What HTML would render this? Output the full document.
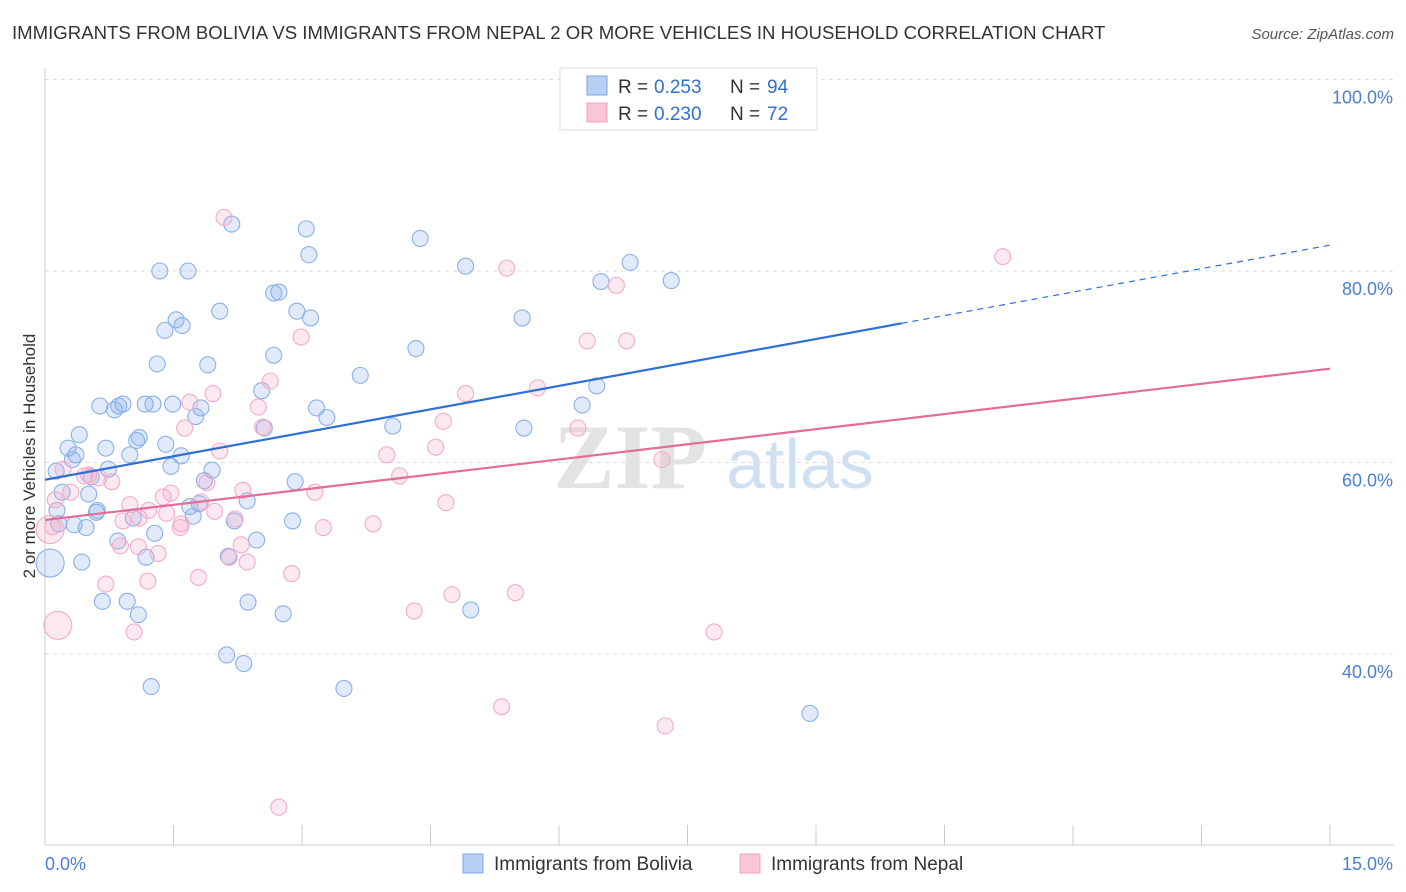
<!DOCTYPE html>
<html><head><meta charset="utf-8"><style>
body{margin:0;background:#fff;font-family:"Liberation Sans",sans-serif;}
svg{display:block}
</style></head><body>
<svg id="chart" width="1406" height="892" viewBox="0 0 1406 892">
<text x="12" y="39" font-size="18.6" fill="#333">IMMIGRANTS FROM BOLIVIA VS IMMIGRANTS FROM NEPAL 2 OR MORE VEHICLES IN HOUSEHOLD CORRELATION CHART</text>
<text x="1394" y="39" font-size="15" fill="#555" font-style="italic" text-anchor="end">Source: ZipAtlas.com</text>
<g>
<text x="630" y="488" font-size="92" fill="#d8d8d8" text-anchor="middle" font-family="Liberation Serif,serif" font-weight="bold" opacity="0.7">ZIP</text>
<text x="800" y="488" font-size="70" fill="#bcd3ee" text-anchor="middle" opacity="0.7">atlas</text>
</g>
<g id="grid"></g>
<g id="axes"></g>
<g id="pts"></g>
<g id="lines"></g>
<text x="35" y="456" font-size="17" fill="#333" text-anchor="middle" transform="rotate(-90 35 456)">2 or more Vehicles in Household</text>
<g>
<rect x="560" y="68" width="257" height="62" fill="#fff" stroke="#ddd"/>
<rect x="587" y="76" width="20" height="19" fill="#b8d0f3" stroke="#7aa5e6"/>
<rect x="587" y="103" width="20" height="19" fill="#f9c6d6" stroke="#f0a0bc"/>
<text x="618" y="93" font-size="19" fill="#333">R =</text>
<text x="654" y="93" font-size="19" fill="#2f6fd6">0.253</text>
<text x="730" y="93" font-size="19" fill="#333">N =</text>
<text x="767" y="93" font-size="19" fill="#2f6fd6">94</text>
<text x="618" y="120" font-size="19" fill="#333">R =</text>
<text x="654" y="120" font-size="19" fill="#2f6fd6">0.230</text>
<text x="730" y="120" font-size="19" fill="#333">N =</text>
<text x="767" y="120" font-size="19" fill="#2f6fd6">72</text>
</g>
<g>
<rect x="463" y="854" width="20" height="19" fill="#b8d0f3" stroke="#7aa5e6"/>
<text x="494" y="870" font-size="19" fill="#333">Immigrants from Bolivia</text>
<rect x="740" y="854" width="20" height="19" fill="#f9c6d6" stroke="#f0a0bc"/>
<text x="771" y="870" font-size="19" fill="#333">Immigrants from Nepal</text>
</g>
</svg>
<script>
const xTicks=[0,1.5,3,4.5,6,7.5,9,10.5,12,13.5,15];
const yTicks=[40,60,80,100];
const yTickLabels=["40.0%","60.0%","80.0%","100.0%"];
const xTickLabels=["0.0%","15.0%"];
const blueX=[1.34,1.67,2.18,3.05,3.08,4.38,4.91,6.83,7.31,6.49,2.67,2.73,2.04,2.94,3.10,1.53,1.60,1.40,5.57,4.33,2.67,1.31,1.90,3.68,2.53,6.44,0.64,0.81,0.86,0.91,1.17,1.26,1.49,1.82,1.76,3.17,3.29,0.40,1.07,1.10,1.41,2.56,4.06,5.59,6.27,0.27,0.71,0.99,0.36,1.59,1.47,0.74,1.95,0.13,0.32,0.54,1.86,2.92,0.20,0.51,0.61,1.69,1.80,2.36,0.14,0.60,1.73,1.03,2.89,2.21,0.16,0.34,0.48,1.28,0.85,2.47,1.18,2.14,0.43,0.06,0.67,0.96,2.37,2.78,1.09,4.97,2.12,2.32,1.24,3.49,8.93];
const blueY=[80.0,80.0,84.9,84.4,81.7,83.4,80.5,80.9,79.0,78.9,77.7,77.8,75.8,75.8,75.1,74.9,74.3,73.8,75.1,71.9,71.2,70.3,70.2,69.1,67.5,68.0,65.9,65.5,65.9,66.1,66.1,66.1,66.1,65.7,64.8,65.7,64.7,62.9,62.3,62.6,61.9,63.6,63.8,63.6,66.0,61.5,61.5,60.8,60.8,60.7,59.6,59.3,59.2,59.1,60.3,58.5,58.1,58.0,56.9,56.7,55.0,55.4,55.7,56.0,55.0,54.8,54.4,54.2,53.9,53.9,53.6,53.5,53.2,52.6,51.8,51.9,50.1,50.2,49.6,49.5,45.5,45.5,45.4,44.2,44.1,44.6,39.9,39.0,36.6,36.4,33.8];
const blueBig=[79];
const pinkX=[2.09,11.18,5.39,6.67,2.99,6.33,6.79,2.63,1.96,1.69,2.49,4.91,5.75,1.63,2.54,6.22,4.65,4.56,2.04,3.99,4.14,7.20,0.21,0.46,0.63,0.78,0.30,0.51,0.12,1.89,2.31,3.15,1.38,1.47,1.82,0.99,1.21,1.42,1.98,2.22,1.59,1.58,0.91,1.10,3.25,3.83,4.68,0.09,0.88,1.09,1.32,2.29,2.15,2.36,0.71,1.20,1.79,2.88,4.75,5.49,4.31,1.04,7.81,0.15,5.33,7.24,2.73,0.06];
const pinkY=[85.6,81.5,80.3,78.5,73.1,72.7,72.7,68.5,67.2,66.3,65.8,67.2,67.8,63.6,63.7,63.6,64.3,61.6,61.2,60.8,58.6,60.3,59.3,58.6,58.4,58.0,56.9,58.7,56.1,57.9,57.1,56.9,56.4,56.8,55.9,55.6,55.0,54.7,54.9,54.1,53.6,53.2,53.9,54.2,53.2,53.6,55.8,53.3,51.3,51.2,50.5,51.4,50.1,49.6,47.3,47.6,48.0,48.4,46.2,46.4,44.5,42.3,42.3,43.0,34.5,32.5,24.0,53.0];
const pinkBig=[63,67];
const blueTrend=[58.2,82.7];
const pinkTrend=[54.0,69.8];
const blueSolidEnd=10.0;

const NS="http://www.w3.org/2000/svg";
const X0=45,X1=1330,YB=845;
function sx(v){return X0+(v/15)*(X1-X0);}
function sy(v){return 79.5+(100-v)*9.575;}
function mk(t,a,p){const e=document.createElementNS(NS,t);for(const k in a)e.setAttribute(k,a[k]);p.appendChild(e);return e;}
const grid=document.getElementById('grid'),axes=document.getElementById('axes'),pts=document.getElementById('pts'),lines=document.getElementById('lines');
yTicks.forEach((t,i)=>{
  const l=mk('line',{x1:X0,x2:1394,y1:sy(t),y2:sy(t),stroke:'#ddd','stroke-dasharray':'4 4'},grid);
  
  
  const tx=mk('text',{x:1393,y:sy(t)+24,'font-size':18,fill:'#4a7fd6','text-anchor':'end'},axes);
  tx.textContent=yTickLabels[i];
  
  
});
const ax=mk('line',{x1:X0,x2:X0,y1:68,y2:YB,stroke:'#ccc'},axes);


const bx=mk('line',{x1:X0,x2:1394,y1:YB,y2:YB,stroke:'#ccc'},axes);


xTicks.forEach(t=>{
  const l=mk('line',{x1:sx(t),x2:sx(t),y1:825,y2:YB,stroke:'#ccc'},axes);
  
  
});
const xl0=mk('text',{x:45,y:870,'font-size':18,fill:'#4a7fd6'},axes);xl0.textContent=xTickLabels[0];


const xl1=mk('text',{x:1393,y:870,'font-size':18,fill:'#4a7fd6','text-anchor':'end'},axes);xl1.textContent=xTickLabels[1];


function dots(xs,ys,big,fill,stroke,name){
  xs.forEach((x,i)=>{
    const c=mk('circle',{cx:sx(x),cy:sy(ys[i]),r:big.includes(i)?14:8,fill:fill,stroke:stroke,'stroke-width':1.1},pts);
    
    
  });
}
dots(blueX,blueY,blueBig,'rgba(130,170,235,0.25)','#8ab0ea','point-bolivia');
dots(pinkX,pinkY,pinkBig,'rgba(245,165,195,0.25)','#f3acc4','point-nepal');
function ty(tr,x){return tr[0]+(tr[1]-tr[0])*x/15;}
const b1=mk('line',{x1:sx(0),y1:sy(ty(blueTrend,0)),x2:sx(blueSolidEnd),y2:sy(ty(blueTrend,blueSolidEnd)),stroke:'#2f6fd6','stroke-width':2.2},lines);


const b2=mk('line',{x1:sx(blueSolidEnd),y1:sy(ty(blueTrend,blueSolidEnd)),x2:sx(15),y2:sy(ty(blueTrend,15)),stroke:'#2f6fd6','stroke-width':1.2,'stroke-dasharray':'6 5'},lines);


const p1=mk('line',{x1:sx(0),y1:sy(ty(pinkTrend,0)),x2:sx(15),y2:sy(ty(pinkTrend,15)),stroke:'#e46c96','stroke-width':2.2},lines);


</script>
</body></html>
